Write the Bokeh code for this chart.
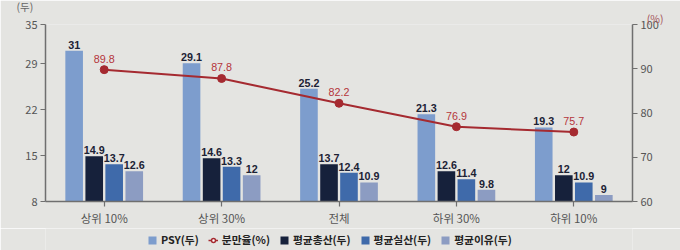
from bokeh.plotting import figure
from bokeh.models import (Range1d, LinearAxis, FixedTicker, ColumnDataSource, Legend,
                          LegendItem, Title)
from bokeh.transform import dodge
from bokeh.layouts import column
from bokeh.embed import file_html
from bokeh.resources import INLINE

categories = ["상위 10%", "상위 30%", "전체", "하위 30%", "하위 10%"]
psy = [31, 29.1, 25.2, 21.3, 19.3]
farrowing = [89.8, 87.8, 82.2, 76.9, 75.7]
total_born = [14.9, 14.6, 13.7, 12.6, 12]
live_born = [13.7, 13.3, 12.4, 11.4, 10.9]
weaned = [12.6, 12, 10.9, 9.8, 9]
left_ticks = [8, 15, 22, 29, 35]
right_ticks = [60, 70, 80, 90, 100]

FONT = "Noto Sans CJK KR"
BG = "#e4e4e1"
COLORS = {"psy": "#7d9dcd", "tb": "#16213b", "lb": "#3f6aaa", "wn": "#8c9cc2"}
LINE = "#a52a30"

def fmt(v):
    return f"{v:g}"

src = ColumnDataSource(dict(
    cat=categories, psy=psy, tb=total_born, lb=live_born, wn=weaned, fr=farrowing,
    psy_t=[fmt(v) for v in psy], tb_t=[fmt(v) for v in total_born],
    lb_t=[fmt(v) for v in live_born], wn_t=[fmt(v) for v in weaned],
    fr_t=[fmt(v) for v in farrowing],
))

p = figure(width=680, height=228, x_range=categories, y_range=Range1d(8, 35),
           output_backend="svg", toolbar_location=None,
           min_border_left=45, min_border_right=48, min_border_top=0, min_border_bottom=24,
           background_fill_color=BG, border_fill_color=BG, outline_line_color=None)
p.grid.visible = False
p.extra_y_ranges = {"pct": Range1d(60, 100)}

offsets = {"psy": -0.256, "tb": -0.085, "lb": 0.085, "wn": 0.256}
for col, off in offsets.items():
    p.vbar(x=dodge("cat", off, range=p.x_range), top=col, bottom=8, width=0.15,
           source=src, fill_color=COLORS[col], line_color=None)
    p.text(x=dodge("cat", off, range=p.x_range), y=col, text=col + "_t", source=src,
           text_align="center", text_baseline="bottom", y_offset=-2,
           text_font_size="10.75px", text_font_style="bold", text_color="#1c2235")

p.line(x="cat", y="fr", source=src, y_range_name="pct", line_color=LINE, line_width=2)
p.scatter(x="cat", y="fr", source=src, y_range_name="pct", size=8,
          fill_color=LINE, line_color=LINE)
p.text(x="cat", y="fr", text="fr_t", source=src, y_range_name="pct",
       text_align="center", text_baseline="bottom", y_offset=-7,
       text_font_size="10.75px", text_color="#b5353b")

la = p.yaxis[0]
la.ticker = FixedTicker(ticks=left_ticks)
ra = LinearAxis(y_range_name="pct", ticker=FixedTicker(ticks=right_ticks))
p.add_layout(ra, "right")
for ax in [la, ra, p.xaxis[0]]:
    ax.axis_line_color = "#6f6f6f"
    ax.axis_line_width = 1.5
    ax.major_tick_line_color = "#6f6f6f"
    ax.major_tick_line_width = 1.2
    ax.major_tick_out = 5
    ax.major_tick_in = 0
    ax.minor_tick_line_color = None
    ax.major_label_text_font = FONT
    ax.major_label_text_font_size = "11px"
    ax.major_label_text_color = "#555555"
    ax.major_label_standoff = 3
p.xaxis[0].major_label_text_font_size = "11.5px"
p.xaxis[0].major_label_standoff = 3

# unit captions (stacked titles above the frame; first added sits nearest the frame)
p.add_layout(Title(text="(%)", align="right", offset=-31, standoff=-2,
                   text_font=FONT, text_font_size="10.5px", text_font_style="normal",
                   text_color="#a5555a", text_line_height=1.0), "above")
p.add_layout(Title(text="(두)", align="left", offset=-29, standoff=-8,
                   text_font=FONT, text_font_size="10.5px", text_font_style="normal",
                   text_color="#666666", text_line_height=1.0), "above")

# legend strip (its renderers use the chart data but lie outside its visible range)
lf = figure(width=680, height=22, x_range=categories, y_range=Range1d(200, 222),
            output_backend="svg", toolbar_location=None, x_axis_type=None,
            y_axis_type=None, min_border=0, background_fill_color=BG,
            border_fill_color=BG, outline_line_color=None)
lf.grid.visible = False
items = []
for col, name in [("psy", "PSY(두)"), (None, "분만율(%)"), ("tb", "평균총산(두)"),
                  ("lb", "평균실산(두)"), ("wn", "평균이유(두)")]:
    if col is None:
        r1 = lf.line(x="cat", y="fr", source=src, line_color=LINE, line_width=1.5)
        r2 = lf.scatter(x="cat", y="fr", source=src, size=6, fill_color="white",
                        line_color=LINE, line_width=1.5)
        items.append(LegendItem(label=name, renderers=[r1, r2]))
    else:
        r = lf.vbar(x="cat", top=col, bottom=8, width=0.15, source=src,
                    fill_color=COLORS[col], line_color=None)
        items.append(LegendItem(label=name, renderers=[r]))
legend = Legend(items=items, orientation="horizontal", location=(102, 3),
                border_line_color=None, background_fill_alpha=0, label_text_font=FONT,
                label_text_font_size="10.75px", label_text_font_style="bold",
                label_text_color="#222222", glyph_width=10, glyph_height=10,
                spacing=9, padding=0, margin=0, label_standoff=4, label_height=14)
lf.add_layout(legend)

open("out.html", "w").write(file_html(column(p, lf, spacing=0), INLINE))
